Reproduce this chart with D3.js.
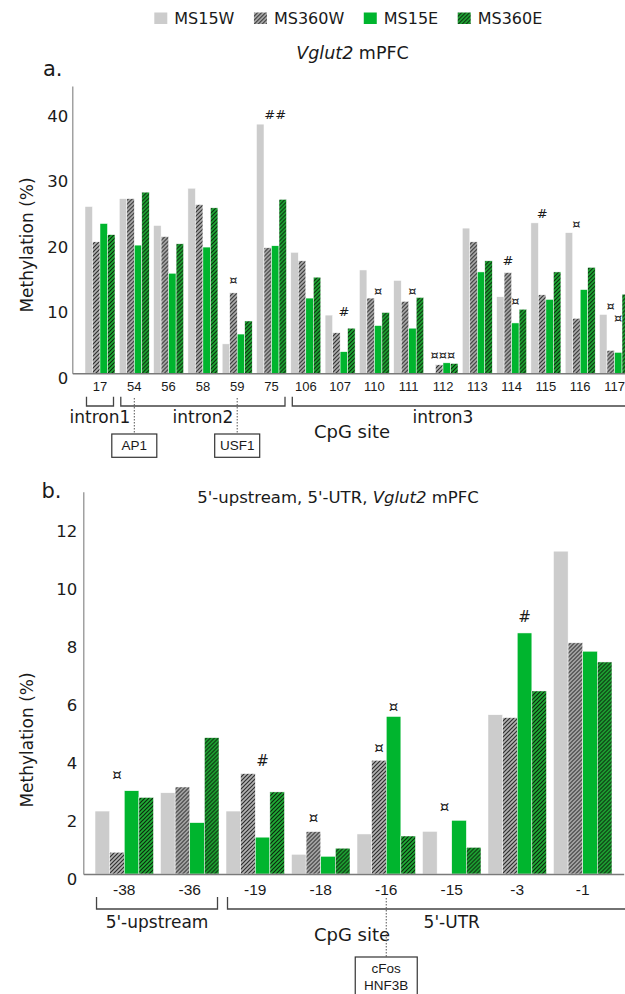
<!DOCTYPE html>
<html>
<head>
<meta charset="utf-8">
<script src="https://cdn.jsdelivr.net/npm/d3@7"></script>
<style>
  body { margin: 0; background: #fff; }
  svg { display: block; }
  text { white-space: pre; }
</style>
</head>
<body>
<script>
// Groups compared in both panels
const series = ["MS15W", "MS360W", "MS15E", "MS360E"];

// Panel a: Vglut2 mPFC, intron CpG sites (methylation %)
const sitesA = ["17", "54", "56", "58", "59", "75", "106", "107", "110", "111", "112", "113", "114", "115", "116", "117"];
const ms15wA = [25.5, 26.7, 22.6, 28.3, 4.5, 38.1, 18.5, 8.9, 15.8, 14.2, 0, 22.2, 11.7, 23.0, 21.5, 9.0];
const ms360wA = [20.1, 26.7, 20.9, 25.8, 12.3, 19.2, 17.2, 6.2, 11.5, 11.0, 1.3, 20.1, 15.4, 12.0, 8.4, 3.5];
const ms15eA = [22.9, 19.6, 15.3, 19.3, 6.0, 19.5, 11.5, 3.3, 7.3, 6.9, 1.6, 15.5, 7.7, 11.3, 12.8, 3.2];
const ms360eA = [21.2, 27.7, 19.8, 25.3, 8.0, 26.6, 14.7, 6.9, 9.3, 11.6, 1.5, 17.2, 9.8, 15.5, 16.2, 12.1];
const ticksA = [0, 10, 20, 30, 40];

// significance marks: which bar they sit over and at what level
const annotA = [
  {site: "59", series: "MS360W", at: 14.3, mark: "¤"},
  {site: "75", series: "MS15E", at: 39.6, mark: "##"},
  {site: "107", series: "MS15E", at: 9.4, mark: "#"},
  {site: "110", series: "MS15E", at: 12.7, mark: "¤"},
  {site: "111", series: "MS15E", at: 12.7, mark: "¤"},
  {site: "112", series: null, at: 2.8, mark: "¤¤¤"},
  {site: "114", series: "MS360W", at: 17.3, mark: "#"},
  {site: "114", series: "MS15E", at: 11.2, mark: "¤"},
  {site: "115", series: "MS360W", at: 24.5, mark: "#"},
  {site: "116", series: "MS360W", at: 22.9, mark: "¤"},
  {site: "117", series: "MS360W", at: 10.4, mark: "¤"},
  {site: "117", series: "MS15E", at: 8.5, mark: "¤"}
];
const regionsA = [
  {label: "intron1", first: "17", last: "17", labelSites: ["17"]},
  {label: "intron2", first: "54", last: "75", labelSites: ["54", "75"]},
  {label: "intron3", first: "106", last: null, labelSites: ["111", "113"]}
];
const motifsA = [
  {site: "54", lines: ["AP1"]},
  {site: "59", lines: ["USF1"]}
];

// Panel b: 5'-upstream and 5'-UTR CpG sites
const sitesB = ["-38", "-36", "-19", "-18", "-16", "-15", "-3", "-1"];
const ms15wB = [2.17, 2.80, 2.17, 0.68, 1.38, 1.47, 5.49, 11.13];
const ms360wB = [0.75, 3.00, 3.46, 1.46, 3.92, 0, 5.39, 7.97];
const ms15eB = [2.87, 1.77, 1.27, 0.61, 5.43, 1.85, 8.31, 7.68];
const ms360eB = [2.64, 4.70, 2.83, 0.89, 1.31, 0.92, 6.31, 7.31];
const ticksB = [0, 2, 4, 6, 8, 10, 12];

const annotB = [
  {site: "-38", series: "MS360W", at: 3.41, mark: "¤"},
  {site: "-19", series: "MS15E", at: 3.9, mark: "#"},
  {site: "-18", series: "MS360W", at: 1.93, mark: "¤"},
  {site: "-16", series: "MS360W", at: 4.34, mark: "¤"},
  {site: "-16", series: "MS15E", at: 5.77, mark: "¤"},
  {site: "-15", series: "MS360W", at: 2.31, mark: "¤"},
  {site: "-3", series: "MS15E", at: 8.86, mark: "#"}
];
const regionsB = [
  {label: "5'-upstream", first: "-38", last: "-36", labelSites: ["-38", "-36"]},
  {label: "5'-UTR", first: "-19", last: null, labelSites: ["-16", "-3"]}
];
const motifsB = [
  {site: "-16", lines: ["cFos", "HNF3B"]}
];

const svg = d3.select("body").append("svg")
  .attr("width", 625)
  .attr("height", 994)
  .attr("font-family", "DejaVu Sans")
  .attr("fill", "#1a1a1a");

// Hatch patterns for the 360 groups
const defs = svg.append("defs");
function addHatch(id, bg, fg) {
  const p = defs.append("pattern")
    .attr("id", id)
    .attr("patternUnits", "userSpaceOnUse")
    .attr("width", 4)
    .attr("height", 4);
  p.append("rect").attr("width", 4).attr("height", 4).attr("fill", bg);
  p.append("path")
    .attr("d", "M-1,1 l2,-2 M0,4 l4,-4 M3,5 l2,-2")
    .attr("stroke", fg)
    .attr("stroke-width", 1.2);
}
addHatch("hatchGray", "#b4b4b4", "#2e2e2e");
addHatch("hatchGreen", "#1fae36", "#0b260d");

const fills = {
  MS15W: "#cccccc",
  MS360W: "url(#hatchGray)",
  MS15E: "#00b52e",
  MS360E: "url(#hatchGreen)"
};

// Legend across the top
const legend = svg.append("g").attr("transform", "translate(154.3,0)");
let lx = 0;
series.forEach(s => {
  legend.append("rect")
    .attr("x", lx).attr("y", 12.5)
    .attr("width", 13).attr("height", 11.5)
    .attr("fill", fills[s]);
  const t = legend.append("text")
    .attr("x", lx + 20).attr("y", 18.5)
    .attr("dominant-baseline", "central")
    .attr("font-size", 16)
    .text(s);
  lx += 20 + t.node().getComputedTextLength() + 19.5;
});

function title(x, y, size, before, after) {
  const t = svg.append("text")
    .attr("x", x).attr("y", y)
    .attr("text-anchor", "middle")
    .attr("dominant-baseline", "central")
    .attr("font-size", size);
  if (before) t.append("tspan").text(before);
  t.append("tspan").attr("font-style", "italic").text("Vglut2");
  t.append("tspan").text(after);
}
title(352.5, 53.3, 17.5, "", " mPFC");
title(338, 496.7, 16.5, "5'-upstream, 5'-UTR, ", " mPFC");

svg.append("text").attr("x", 43).attr("y", 76).attr("font-size", 21).text("a.");
svg.append("text").attr("x", 41.5).attr("y", 498).attr("font-size", 21).text("b.");

// One bar panel with its axes, marks, region brackets and motif boxes
function drawPanel(p) {
  const x = d3.scaleBand()
    .domain(p.sites)
    .range([p.left, p.right])
    .paddingInner(p.padIn)
    .paddingOuter(p.padOut);
  const xs = d3.scaleBand().domain(series).range([0, x.bandwidth()]);
  const y = d3.scaleLinear().domain([0, p.yMax]).range([p.base, p.top]);
  const g = svg.append("g");

  // Bars
  const groups = g.selectAll("g.site")
    .data(p.sites)
    .join("g")
    .attr("class", "site")
    .attr("transform", d => "translate(" + x(d) + ",0)");
  groups.selectAll("rect")
    .data((d, i) => series.map((s, k) => ({s: s, v: p.values[k][i]})).filter(b => b.v > 0))
    .join("rect")
    .attr("x", d => xs(d.s))
    .attr("width", xs.bandwidth())
    .attr("y", d => y(d.v))
    .attr("height", d => y(0) - y(d.v))
    .attr("fill", d => fills[d.s])
    .attr("stroke", "#ffffff")
    .attr("stroke-width", 0.5);

  // Y axis
  const ya = g.append("g")
    .attr("transform", "translate(" + p.left + ",0)")
    .call(d3.axisLeft(y).tickValues(p.yTicks).tickSize(0).tickSizeOuter(0).tickPadding(p.yPad));
  ya.attr("font-family", "DejaVu Sans").attr("font-size", p.yFont);
  ya.select(".domain").attr("stroke", "#8a8a8a").attr("stroke-width", 1.2);
  ya.selectAll("text").attr("fill", "#1a1a1a").attr("y", p.yLabelShift);

  svg.append("text")
    .attr("transform", "translate(26.5," + p.yTitleY + ") rotate(-90)")
    .attr("text-anchor", "middle")
    .attr("dominant-baseline", "central")
    .attr("font-size", 17)
    .text("Methylation (%)");

  // X axis (baseline + CpG site labels)
  const xa = g.append("g")
    .attr("transform", "translate(0," + p.base + ")")
    .call(d3.axisBottom(x).tickSize(0).tickSizeOuter(0));
  xa.attr("font-family", "Liberation Sans").attr("font-size", p.xFont);
  xa.select(".domain").attr("stroke", "#7a7a7a").attr("stroke-width", 1.6);
  xa.selectAll("text").attr("fill", "#1a1a1a").attr("y", p.xLabelY).attr("dy", "0.35em");

  // Significance marks
  g.selectAll("text.mark")
    .data(p.annots)
    .join("text")
    .attr("class", "mark")
    .attr("x", d => x(d.site) + (d.series ? xs(d.series) + xs.bandwidth() / 2 : x.bandwidth() / 2))
    .attr("y", d => y(d.at))
    .attr("text-anchor", "middle")
    .attr("dominant-baseline", "central")
    .attr("font-size", p.markFont)
    .text(d => d.mark);

  // Region brackets
  const center = s => x(s) + x.bandwidth() / 2;
  p.regions.forEach(r => {
    const l = x(r.first) + 1.5;
    const rr = r.last ? x(r.last) + x.bandwidth() - 1.5 : p.right + 40;
    g.append("path")
      .attr("d", "M" + l + "," + p.brTop + "V" + p.brBot + "H" + rr + "V" + p.brTop)
      .attr("fill", "none")
      .attr("stroke", "#444")
      .attr("stroke-width", 1.3);
    g.append("text")
      .attr("x", d3.mean(r.labelSites, center))
      .attr("y", p.brLabelY)
      .attr("text-anchor", "middle")
      .attr("dominant-baseline", "central")
      .attr("font-size", 17)
      .text(r.label);
  });

  g.append("text")
    .attr("x", p.cpgX)
    .attr("y", p.cpgY)
    .attr("text-anchor", "middle")
    .attr("dominant-baseline", "central")
    .attr("font-size", 18)
    .text("CpG site");

  // Transcription factor motifs with dotted leader lines
  p.motifs.forEach(m => {
    const cx = center(m.site);
    g.append("line")
      .attr("x1", cx).attr("x2", cx)
      .attr("y1", p.dotTop).attr("y2", p.boxTop)
      .attr("stroke", "#555")
      .attr("stroke-width", 1)
      .attr("stroke-dasharray", "1.5,1.5");
    g.append("rect")
      .attr("x", cx - p.boxW / 2).attr("y", p.boxTop)
      .attr("width", p.boxW).attr("height", p.boxH)
      .attr("fill", "#fff")
      .attr("stroke", "#333")
      .attr("stroke-width", 1.2);
    m.lines.forEach((line, i) => {
      g.append("text")
        .attr("x", cx)
        .attr("y", p.boxTop + p.lineY0 + i * 17)
        .attr("text-anchor", "middle")
        .attr("dominant-baseline", "central")
        .attr("font-family", "Liberation Sans")
        .attr("font-size", 13.5)
        .text(line);
    });
  });
}

drawPanel({
  sites: sitesA,
  values: [ms15wA, ms360wA, ms15eA, ms360eA],
  left: 72.3, right: 642.2, padIn: 0.125, padOut: 0.37,
  base: 373.3, top: 86, yMax: 43.93, yTicks: ticksA,
  yFont: 16.5, yPad: 4, yLabelShift: 4.5, yTitleY: 245,
  xFont: 13, xLabelY: 13.4, markFont: 13,
  annots: annotA, regions: regionsA,
  brTop: 396.7, brBot: 406, brLabelY: 417,
  cpgX: 352, cpgY: 431.7,
  motifs: motifsA, dotTop: 398, boxTop: 434, boxW: 45, boxH: 23.3, lineY0: 11.7
});

drawPanel({
  sites: sitesB,
  values: [ms15wB, ms360wB, ms15eB, ms360eB],
  left: 83.3, right: 623.7, padIn: 0.107, padOut: 0.179,
  base: 874, top: 491.7, yMax: 13.18, yTicks: ticksB,
  yFont: 16.5, yPad: 6, yLabelShift: 5, yTitleY: 740,
  xFont: 15.5, xLabelY: 16, markFont: 15,
  annots: annotB, regions: regionsB,
  brTop: 897, brBot: 909, brLabelY: 922,
  cpgX: 352, cpgY: 934,
  motifs: motifsB, dotTop: 898, boxTop: 957, boxW: 62, boxH: 50, lineY0: 11
});
</script>
</body>
</html>
